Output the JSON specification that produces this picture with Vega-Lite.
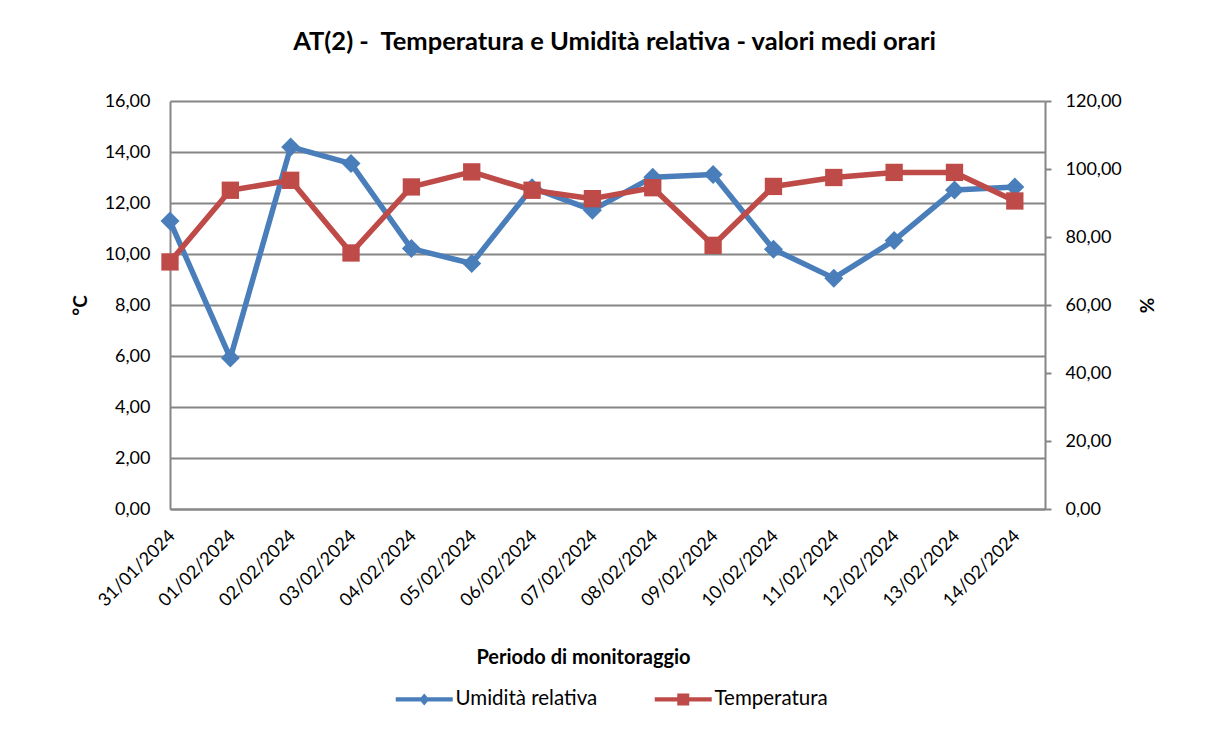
{
  "$schema": "https://vega.github.io/schema/vega-lite/v6.json",
  "width": 875,
  "height": 408,
  "autosize": {"type": "none"},
  "padding": {"left": 170, "top": 101, "right": 178, "bottom": 224},
  "background": "white",
  "config": {"view": {"stroke": null}},
  "title": {"text": "AT(2) -\u00a0 Temperatura e Umidità relativa - valori medi orari", "font": "Lato", "fontSize": 25.5, "fontWeight": "bold", "color": "black", "anchor": "middle", "offset": 37, "dx": 7},
  "data": {"values": [
    {"Data": "31/01/2024", "Temperatura": 9.69, "Umidità relativa": 84.7},
    {"Data": "01/02/2024", "Temperatura": 12.5, "Umidità relativa": 44.4},
    {"Data": "02/02/2024", "Temperatura": 12.89, "Umidità relativa": 106.5},
    {"Data": "03/02/2024", "Temperatura": 10.04, "Umidità relativa": 101.6},
    {"Data": "04/02/2024", "Temperatura": 12.63, "Umidità relativa": 76.6},
    {"Data": "05/02/2024", "Temperatura": 13.22, "Umidità relativa": 72.2},
    {"Data": "06/02/2024", "Temperatura": 12.5, "Umidità relativa": 94.5},
    {"Data": "07/02/2024", "Temperatura": 12.17, "Umidità relativa": 87.9},
    {"Data": "08/02/2024", "Temperatura": 12.6, "Umidità relativa": 97.6},
    {"Data": "09/02/2024", "Temperatura": 10.34, "Umidità relativa": 98.4},
    {"Data": "10/02/2024", "Temperatura": 12.65, "Umidità relativa": 76.4},
    {"Data": "11/02/2024", "Temperatura": 13.0, "Umidità relativa": 67.9},
    {"Data": "12/02/2024", "Temperatura": 13.2, "Umidità relativa": 79.0},
    {"Data": "13/02/2024", "Temperatura": 13.2, "Umidità relativa": 93.8},
    {"Data": "14/02/2024", "Temperatura": 12.08, "Umidità relativa": 94.7}
  ]},
  "encoding": {
    "x": {
      "field": "Data", "type": "ordinal", "sort": null,
      "scale": {"type": "point", "padding": 0.25, "align": 0},
      "axis": {
        "title": "Periodo di monitoraggio",
        "titleFont": "Lato", "titleFontSize": 20, "titleFontWeight": "bold", "titleColor": "black",
        "titleX": 413, "titleY": 148, "titleBaseline": "middle", "titleAlign": "center",
        "labelAngle": -45, "labelAlign": "right", "labelBaseline": "middle",
        "labelFont": "Lato", "labelFontSize": 18, "labelColor": "black",
        "labelPadding": 24, "labelOffset": 2,
        "ticks": false, "grid": false,
        "domainColor": "#868686", "domainWidth": 2
      }
    }
  },
  "layer": [
    {
      "encoding": {
        "y": {
          "field": "Umidità relativa", "type": "quantitative",
          "scale": {"domain": [0, 120], "nice": false, "zero": true},
          "axis": {
            "orient": "right", "values": [0, 20, 40, 60, 80, 100, 120],
            "labelExpr": "replace(format(datum.value, '.2f'), '.', ',')",
            "labelFont": "Lato", "labelFontSize": 18, "labelColor": "black", "labelPadding": 14,
            "grid": false, "ticks": true, "tickSize": 6, "tickColor": "#868686", "tickWidth": 2,
            "domainColor": "#868686", "domainWidth": 2,
            "title": "%", "titleFont": "Lato", "titleFontSize": 19, "titleFontWeight": "bold", "titleColor": "black",
            "titleAngle": -90, "titleX": 102, "titleY": 204, "titleBaseline": "middle", "titleAlign": "center"
          }
        }
      },
      "layer": [
        {"mark": {"type": "line", "color": "#4A7EBB", "strokeWidth": 5.5, "strokeJoin": "round", "strokeCap": "round"}},
        {"mark": {"type": "point", "shape": "diamond", "filled": true, "size": 360, "color": "#4A7EBB", "opacity": 1, "strokeWidth": 0}}
      ]
    },
    {
      "encoding": {
        "y": {
          "field": "Temperatura", "type": "quantitative",
          "scale": {"domain": [0, 16], "nice": false, "zero": true},
          "axis": {
            "orient": "left", "values": [0, 2, 4, 6, 8, 10, 12, 14, 16],
            "labelExpr": "replace(format(datum.value, '.2f'), '.', ',')",
            "labelFont": "Lato", "labelFontSize": 18, "labelColor": "black", "labelPadding": 20,
            "grid": true, "gridColor": "#868686", "gridWidth": 2,
            "ticks": false,
            "domainColor": "#868686", "domainWidth": 2,
            "title": "°C", "titleFont": "Lato", "titleFontSize": 19, "titleFontWeight": "bold", "titleColor": "black",
            "titleAngle": -90, "titleX": -90, "titleY": 204, "titleBaseline": "middle", "titleAlign": "center"
          }
        }
      },
      "layer": [
        {"mark": {"type": "line", "color": "#BE4B48", "strokeWidth": 5.5, "strokeJoin": "round", "strokeCap": "round"}},
        {"mark": {"type": "point", "shape": "square", "filled": true, "size": 300, "color": "#BE4B48", "opacity": 1, "strokeWidth": 0}},
        {
          "transform": [{"fold": ["Umidità relativa", "Temperatura"], "as": ["serie", "v"]}],
          "mark": {"type": "point", "filled": true, "opacity": 0, "strokeWidth": 0},
          "encoding": {
            "color": {
              "field": "serie", "type": "nominal",
              "scale": {"domain": ["Umidità relativa", "Temperatura"], "range": ["#4A7EBB", "#BE4B48"]},
              "legend": {
                "title": null, "orient": "none", "legendX": 244, "legendY": 588, "direction": "horizontal",
                "symbolSize": 144, "symbolOpacity": 1, "symbolStrokeWidth": 0,
                "labelFont": "Lato", "labelFontSize": 20.5, "labelColor": "black", "labelOffset": 21,
                "columnPadding": 56, "padding": 0,
                "encode": {"symbols": {"update": {"opacity": {"value": 1}}}}
              }
            },
            "shape": {
              "field": "serie", "type": "nominal",
              "scale": {"domain": ["Umidità relativa", "Temperatura"], "range": ["M-4.75,-0.35H4.75V0.35H-4.75Z M0,-1L0.85,0L0,1L-0.85,0Z", "M-4.75,-0.35H4.75V0.35H-4.75Z M-1,-1H1V1H-1Z"]},
              "legend": {
                "title": null, "orient": "none", "legendX": 244, "legendY": 588, "direction": "horizontal",
                "symbolSize": 144, "symbolOpacity": 1, "symbolStrokeWidth": 0,
                "labelFont": "Lato", "labelFontSize": 20.5, "labelColor": "black", "labelOffset": 21,
                "columnPadding": 56, "padding": 0,
                "encode": {"symbols": {"update": {"opacity": {"value": 1}}}}
              }
            }
          }
        }
      ]
    }
  ],
  "resolve": {"scale": {"y": "independent"}, "axis": {"y": "independent"}}
}
